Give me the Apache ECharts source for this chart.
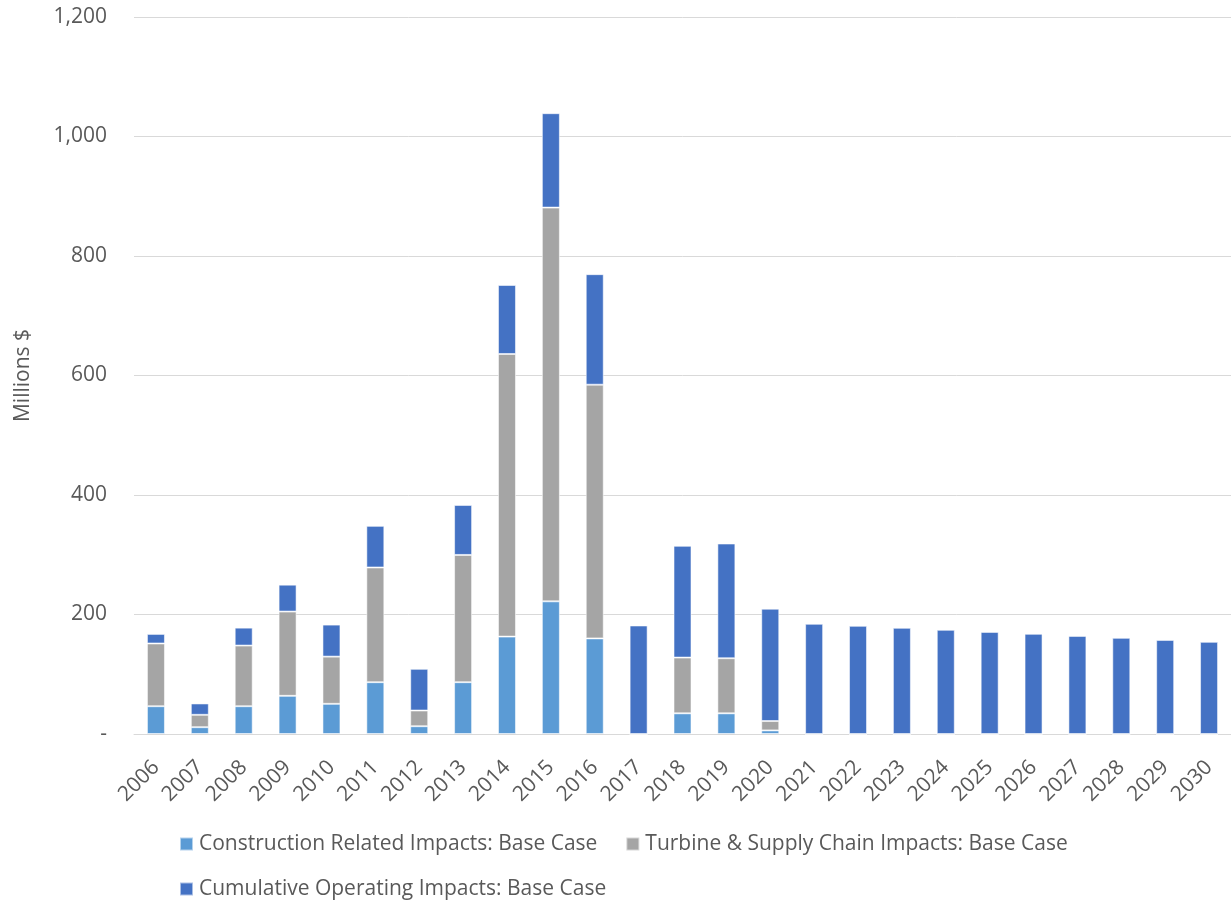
<!DOCTYPE html>
<html>
<head>
<meta charset="utf-8">
<script src="https://cdn.jsdelivr.net/npm/echarts@6/dist/echarts.min.js"></script>
<style>
  html, body { margin: 0; padding: 0; background: #fff; }
  #chart { width: 1231px; height: 904px; }
</style>
</head>
<body>
<div id="chart"></div>
<script>
// Years on the category axis
const years = ['2006','2007','2008','2009','2010','2011','2012','2013','2014','2015','2016','2017','2018',
  '2019','2020','2021','2022','2023','2024','2025','2026','2027','2028','2029','2030'];

// Economic impacts, millions of dollars (stacked)
const construction = [46.5, 11.4, 46.5, 63.9, 50.5, 86.7, 13, 86.7, 163, 222, 160, 0, 34.6,
  34.6, 6, 0, 0, 0, 0, 0, 0, 0, 0, 0, 0];
const turbineSupply = [105, 20.7, 101.5, 141, 79, 192, 26.3, 213, 473, 659, 424.6, 0, 93.3,
  92.2, 15.7, 0, 0, 0, 0, 0, 0, 0, 0, 0, 0];
const operating = [16, 19, 30, 45, 53.6, 69.7, 69.8, 83.6, 115.5, 158, 185, 181.6, 187,
  192, 188, 184.4, 181, 177.7, 174.3, 170.9, 167.6, 164.2, 160.9, 157.5, 154.2];

const seriesNames = [
  'Construction Related Impacts: Base Case',
  'Turbine & Supply Chain Impacts: Base Case',
  'Cumulative Operating Impacts: Base Case'
];
const seriesColors = ['#5B9BD5', '#A5A5A5', '#4472C4'];

const FONT = '"Open Sans", sans-serif';
const TEXT = '#595959';

const chart = echarts.init(document.getElementById('chart'), null, { renderer: 'canvas' });

function barSeries(name, data, color) {
  return {
    name: name,
    type: 'bar',
    stack: 'impacts',
    data: data,
    barWidth: 18,
    itemStyle: { color: color, borderColor: 'rgba(255,255,255,0.55)', borderWidth: 1 },
    emphasis: { disabled: true }
  };
}

const legendText = { color: TEXT, fontSize: 21, lineHeight: 22, fontFamily: FONT, padding: [0, 0, 0, 1] };

chart.setOption({
  animation: false,
  backgroundColor: '#ffffff',
  textStyle: { fontFamily: FONT },
  grid: { left: 134, right: 0, top: 17, bottom: 170, containLabel: false },
  legend: [
    {
      data: [seriesNames[0], seriesNames[1]],
      left: 179, top: 833, padding: 0,
      icon: 'rect', itemWidth: 13, itemHeight: 13, itemGap: 28,
      textStyle: legendText,
      selectedMode: false
    },
    {
      data: [seriesNames[2]],
      left: 179, top: 878, padding: 0,
      icon: 'rect', itemWidth: 13, itemHeight: 13,
      textStyle: legendText,
      selectedMode: false
    }
  ],
  xAxis: {
    type: 'category',
    data: years,
    axisLine: { show: true, lineStyle: { color: '#D9D9D9', width: 1 } },
    axisTick: { show: false },
    axisLabel: {
      rotate: 45, interval: 0, margin: 30,
      color: TEXT, fontSize: 21, fontFamily: FONT
    }
  },
  yAxis: {
    type: 'value',
    min: 0, max: 1200, interval: 200,
    name: 'Millions $',
    nameLocation: 'middle',
    nameGap: 100,
    nameRotate: 90,
    nameTextStyle: { color: TEXT, fontSize: 21, fontFamily: FONT },
    axisLine: { show: false },
    axisTick: { show: false },
    splitLine: { lineStyle: { color: '#D9D9D9', width: 1 } },
    axisLabel: {
      margin: 27,
      color: TEXT, fontSize: 21, fontFamily: FONT,
      formatter: function (v) { return v === 0 ? '-' : v.toLocaleString('en-US'); }
    }
  },
  series: [
    barSeries(seriesNames[0], construction, seriesColors[0]),
    barSeries(seriesNames[1], turbineSupply, seriesColors[1]),
    barSeries(seriesNames[2], operating, seriesColors[2])
  ]
});
</script>
</body>
</html>
